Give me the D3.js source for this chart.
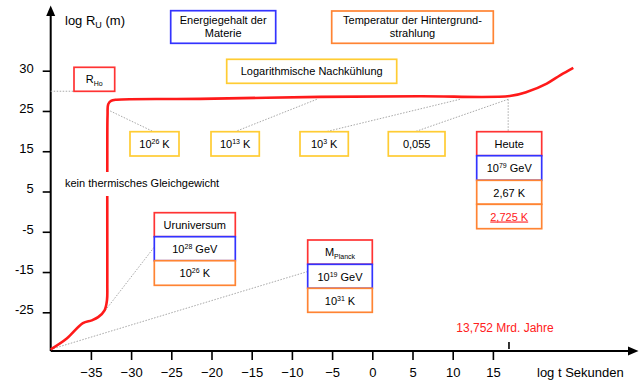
<!DOCTYPE html>
<html>
<head>
<meta charset="utf-8">
<script src="https://cdn.jsdelivr.net/npm/d3@7"></script>
<style>
  body { margin: 0; background: #fff; }
  svg { font-family: "Liberation Sans", Arial, sans-serif; }
</style>
</head>
<body>
<script>
const w = 640;
const h = 390;

// ticks of the two axes (y labels are not evenly spaced in value, the top one reads 30)
const xTicks = [-35, -30, -25, -20, -15, -10, -5, 0, 5, 10, 15];
const yTicks = [-25, -15, -5, 5, 15, 25, 35];
const yTickLabels = ["-25", "-15", "-5", "5", "15", "25", "30"];

// radius of the universe, log t (s) vs log R (m)
const curveT = [-40, -38.0, -36.0, -34.9, -34.1, -33.3, -33.0, -32.96, -32.96, -32.96, -32.93, -32.84, -32.5, -31.8, -21.4, -6.5, 5.9, 17.1, 19.2, 21.7, 23.4, 25.0];
const curveR = [-34.2, -31.5, -27.7, -27.0, -26.2, -24.5, -22.0, -17.8, -9.6, 15.2, 23.9, 26.7, 27.5, 27.8, 28.0, 28.5, 28.65, 28.7, 29.7, 31.8, 33.9, 35.7];

// today marker
const todayT = 17.0;
const todayLabel = "13,752 Mrd. Jahre";

const red = "#ff3333", blue = "#3333ff", orange = "#ff8433", yellow = "#ffcc33";

const svg = d3.select("body")
    .append("svg")
    .attr("width", w)
    .attr("height", h)
    ;

const xScale = d3.scaleLinear()
    .domain([-40, 15])
    .range([50.7, 372.3 + 15 * 8.04])
    ;
const yScale = d3.scaleLinear()
    .domain([-25, 35])
    .range([312.3, 70.7])
    ;
const x0 = xScale(-40);
const yBase = 351;

const xAxis = d3.axisBottom(xScale)
    .tickValues(xTicks)
    .tickSize(9)
    .tickPadding(8)
    ;
const yAxis = d3.axisLeft(yScale)
    .tickValues(yTicks)
    .tickFormat((d, i) => yTickLabels[i])
    .tickSize(8)
    .tickPadding(9)
    ;

const gx = svg.append("g")
    .attr("transform", "translate(0," + yBase + ")")
    .call(xAxis)
    ;
const gy = svg.append("g")
    .attr("transform", "translate(" + x0 + ",0)")
    .call(yAxis)
    ;
[gx, gy].forEach(g => {
    g.select(".domain").remove();
    g.selectAll("line").attr("stroke", "#000").attr("stroke-width", 1.6);
    g.selectAll("text").attr("font-size", 13).attr("fill", "#000")
        .style("font-family", "'Liberation Sans', Arial, sans-serif");
});
gy.selectAll("text").attr("dy", "0.1em");

// axis lines with arrows
svg.append("line").attr("x1", x0).attr("y1", yBase).attr("x2", 632).attr("y2", yBase)
    .attr("stroke", "#000").attr("stroke-width", 2);
svg.append("path").attr("d", `M638.5,${yBase} L628,${yBase - 4.5} L628,${yBase + 4.5} Z`).attr("fill", "#000");
svg.append("line").attr("x1", x0).attr("y1", yBase).attr("x2", x0).attr("y2", 14)
    .attr("stroke", "#000").attr("stroke-width", 2);
svg.append("path").attr("d", `M${x0},5.5 L${x0 - 4.5},16 L${x0 + 4.5},16 Z`).attr("fill", "#000");

// axis titles
const yt = svg.append("text").attr("x", 65).attr("y", 25).attr("font-size", 13);
yt.append("tspan").text("log R");
yt.append("tspan").attr("font-size", 9).attr("dy", 3).text("U");
yt.append("tspan").attr("dy", -3).text(" (m)");
svg.append("text").attr("x", 537).attr("y", 377).attr("font-size", 13).text("log t Sekunden");

// dotted connectors
const dot = (x1, y1, x2, y2) => svg.append("line")
    .attr("x1", x1).attr("y1", y1).attr("x2", x2).attr("y2", y2)
    .attr("stroke", "#a8a8a8").attr("stroke-width", 1).attr("stroke-dasharray", "1.5,1.5");

dot(x0, yScale(29.9), 74, yScale(29.9));
dot(xScale(-32.6), yScale(25), 153.5, 131.7);
dot(xScale(-6.9), yScale(27.9), 235, 131.7);
dot(xScale(10.9), yScale(27.9), 326, 131.7);
dot(xScale(16.9), yScale(27.9), 415, 131.7);
dot(xScale(16.9), yScale(27.9), xScale(16.9), 131.7);
dot(xScale(-33.2), yScale(-24.5), 154.3, 247);
dot(x0, yScale(-34.2), 307.7, 271.5);

// red curve
const line = d3.line()
    .x((d, i) => xScale(curveT[i]))
    .y((d, i) => yScale(curveR[i]))
    .curve(d3.curveCatmullRom.alpha(0.5))
    ;
svg.append("path")
    .attr("d", line(curveT))
    .attr("fill", "none")
    .attr("stroke", "#ff1a1a")
    .attr("stroke-width", 2.6)
    ;

// text crossing the curve, on white
svg.append("rect").attr("x", 62).attr("y", 172).attr("width", 158).attr("height", 24).attr("fill", "#fff");
svg.append("text").attr("x", 65).attr("y", 187).attr("font-size", 11).text("kein thermisches Gleichgewicht");

// boxes
function box(x, y, bw, bh, color) {
    svg.append("rect").attr("x", x).attr("y", y).attr("width", bw).attr("height", bh)
        .attr("fill", "#fff").attr("stroke", color).attr("stroke-width", 1.7);
}
function label(cx, cy, parts, opts = {}) {
    const t = svg.append("text").attr("x", cx).attr("y", cy).attr("text-anchor", "middle")
        .attr("font-size", 11).attr("fill", opts.fill || "#000");
    if (opts.underline) t.attr("text-decoration", "underline");
    parts.forEach(p => {
        if (p.sup) t.append("tspan").attr("font-size", 7).attr("dy", -4).text(p.sup);
        else if (p.sub) t.append("tspan").attr("font-size", 7).attr("dy", 2.5).text(p.sub);
        else t.append("tspan").attr("dy", p.dy || 0).text(p.t);
    });
    return t;
}

box(170.7, 10.7, 105, 32.6, blue);
label(223.2, 24, [{ t: "Energiegehalt der" }]);
label(223.2, 37, [{ t: "Materie" }]);

box(331.7, 11, 161.6, 32.3, orange);
label(412.5, 24, [{ t: "Temperatur der Hintergrund-" }]);
label(412.5, 37, [{ t: "strahlung" }]);

box(226.7, 59.3, 170, 24, yellow);
label(311.7, 75, [{ t: "Logarithmische Nachkühlung" }]);

box(74, 67.3, 40.7, 24, red);
label(94.3, 83, [{ t: "R" }, { sub: "Ho" }]);

box(130, 131.7, 49, 24.3, yellow);
label(154.5, 148, [{ t: "10" }, { sup: "26" }, { t: " K", dy: 4 }]);
box(211, 131.7, 48.3, 24.3, yellow);
label(235.2, 148, [{ t: "10" }, { sup: "13" }, { t: " K", dy: 4 }]);
box(300, 131.7, 48.3, 24.3, yellow);
label(324.2, 148, [{ t: "10" }, { sup: "3" }, { t: " K", dy: 4 }]);
box(388.3, 131.7, 56.7, 24.3, yellow);
label(416.7, 148, [{ t: "0,055" }]);

// Heute stack
box(476.7, 131.7, 65, 24, red);
label(509.2, 147.5, [{ t: "Heute" }]);
box(476.7, 155.7, 65, 24.6, blue);
label(509.2, 172, [{ t: "10" }, { sup: "79" }, { t: " GeV", dy: 4 }]);
box(476.7, 180.3, 65, 24, orange);
label(509.2, 196.5, [{ t: "2,67 K" }]);
box(476.7, 204.3, 65, 24.4, orange);
label(509.2, 220.5, [{ t: "2,725 K" }], { fill: "#ff2020", underline: true });

// Uruniversum stack
box(154.3, 212.7, 81, 24, red);
label(194.8, 228.5, [{ t: "Uruniversum" }]);
box(154.3, 236.7, 81, 24, blue);
label(194.8, 253, [{ t: "10" }, { sup: "28" }, { t: " GeV", dy: 4 }]);
box(154.3, 260.7, 81, 24.6, orange);
label(194.8, 277, [{ t: "10" }, { sup: "26" }, { t: " K", dy: 4 }]);

// Planck stack
box(307.7, 240, 64.6, 24.3, red);
label(340, 256, [{ t: "M" }, { sub: "Planck" }]);
box(307.7, 264.3, 64.6, 24, blue);
label(340, 280.5, [{ t: "10" }, { sup: "19" }, { t: " GeV", dy: 4 }]);
box(307.7, 288.3, 64.6, 24, orange);
label(340, 304.5, [{ t: "10" }, { sup: "31" }, { t: " K", dy: 4 }]);

// today marker on the time axis
svg.append("line")
    .attr("x1", xScale(todayT)).attr("x2", xScale(todayT))
    .attr("y1", yBase - 9).attr("y2", yBase - 2)
    .attr("stroke", "#000").attr("stroke-width", 1.6);
svg.append("text").attr("x", xScale(todayT) - 4).attr("y", 332).attr("text-anchor", "middle")
    .attr("font-size", 12).attr("fill", "#ff2020").text(todayLabel);
</script>
</body>
</html>
